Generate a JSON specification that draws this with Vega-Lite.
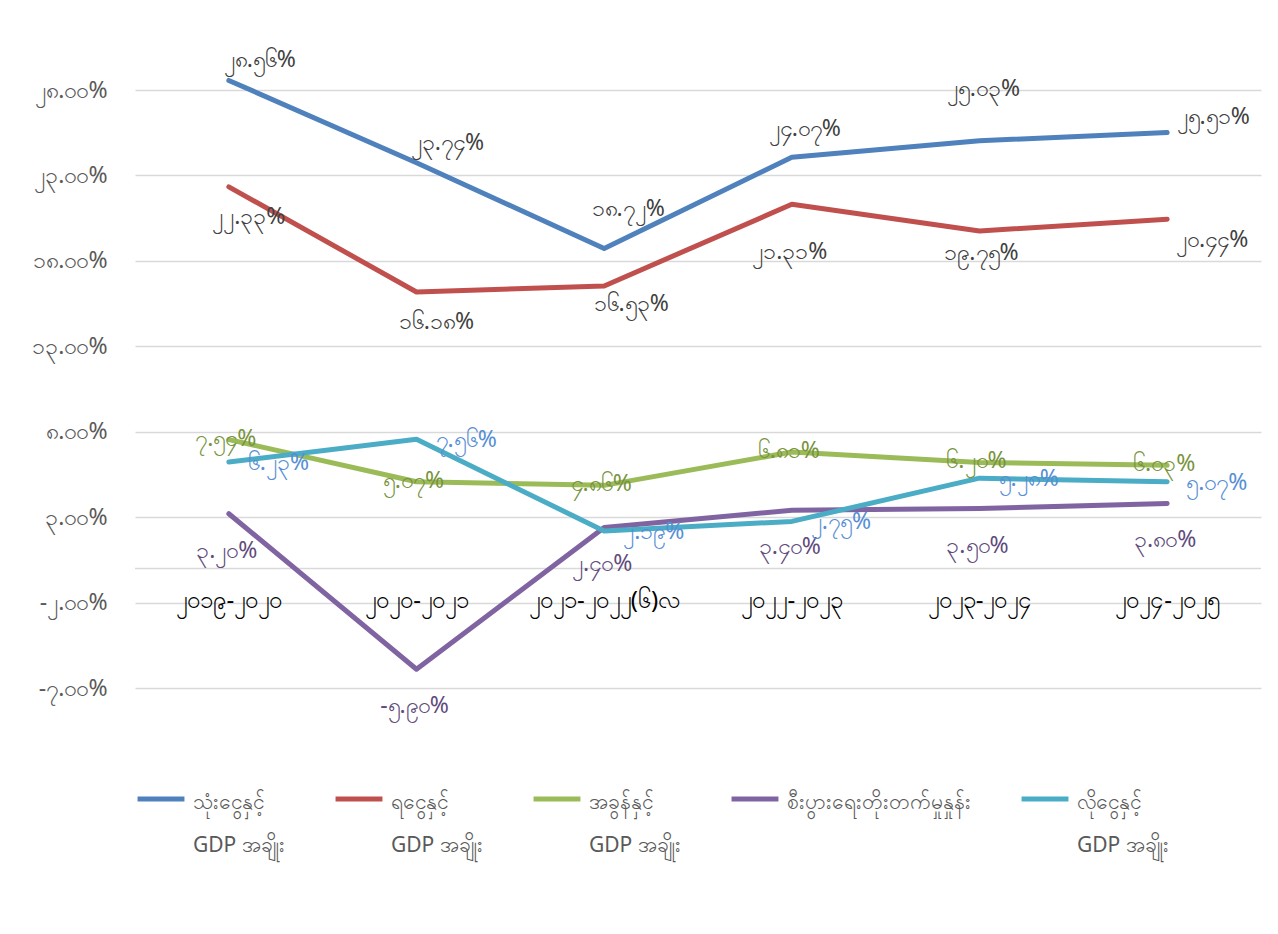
{
  "$schema": "https://vega.github.io/schema/vega-lite/v6.json",
  "autosize": "none",
  "width": 1126,
  "height": 598,
  "padding": {"left": 135, "top": 90, "right": 17, "bottom": 246},
  "background": "white",
  "config": {
    "font": "Noto Sans",
    "view": {"stroke": null}
  },
  "data": {
    "values": [
      {"cat": "၂၀၁၉-၂၀၂၀", "series": "သုံးငွေနှင့် GDP အချိုး", "v": 28.56, "t": "၂၈.၅၆%"},
      {"cat": "၂၀၂၀-၂၀၂၁", "series": "သုံးငွေနှင့် GDP အချိုး", "v": 23.74, "t": "၂၃.၇၄%"},
      {"cat": "၂၀၂၁-၂၀၂၂(၆)လ", "series": "သုံးငွေနှင့် GDP အချိုး", "v": 18.72, "t": "၁၈.၇၂%"},
      {"cat": "၂၀၂၂-၂၀၂၃", "series": "သုံးငွေနှင့် GDP အချိုး", "v": 24.07, "t": "၂၄.၀၇%"},
      {"cat": "၂၀၂၃-၂၀၂၄", "series": "သုံးငွေနှင့် GDP အချိုး", "v": 25.03, "t": "၂၅.၀၃%"},
      {"cat": "၂၀၂၄-၂၀၂၅", "series": "သုံးငွေနှင့် GDP အချိုး", "v": 25.51, "t": "၂၅.၅၁%"},
      {"cat": "၂၀၁၉-၂၀၂၀", "series": "ရငွေနှင့် GDP အချိုး", "v": 22.33, "t": "၂၂.၃၃%"},
      {"cat": "၂၀၂၀-၂၀၂၁", "series": "ရငွေနှင့် GDP အချိုး", "v": 16.18, "t": "၁၆.၁၈%"},
      {"cat": "၂၀၂၁-၂၀၂၂(၆)လ", "series": "ရငွေနှင့် GDP အချိုး", "v": 16.53, "t": "၁၆.၅၃%"},
      {"cat": "၂၀၂၂-၂၀၂၃", "series": "ရငွေနှင့် GDP အချိုး", "v": 21.31, "t": "၂၁.၃၁%"},
      {"cat": "၂၀၂၃-၂၀၂၄", "series": "ရငွေနှင့် GDP အချိုး", "v": 19.75, "t": "၁၉.၇၅%"},
      {"cat": "၂၀၂၄-၂၀၂၅", "series": "ရငွေနှင့် GDP အချိုး", "v": 20.44, "t": "၂၀.၄၄%"},
      {"cat": "၂၀၁၉-၂၀၂၀", "series": "အခွန်နှင့် GDP အချိုး", "v": 7.54, "t": "၇.၅၄%"},
      {"cat": "၂၀၂၀-၂၀၂၁", "series": "အခွန်နှင့် GDP အချိုး", "v": 5.07, "t": "၅.၀၇%"},
      {"cat": "၂၀၂၁-၂၀၂၂(၆)လ", "series": "အခွန်နှင့် GDP အချိုး", "v": 4.86, "t": "၄.၈၆%"},
      {"cat": "၂၀၂၂-၂၀၂၃", "series": "အခွန်နှင့် GDP အချိုး", "v": 6.81, "t": "၆.၈၁%"},
      {"cat": "၂၀၂၃-၂၀၂၄", "series": "အခွန်နှင့် GDP အချိုး", "v": 6.20, "t": "၆.၂၀%"},
      {"cat": "၂၀၂၄-၂၀၂၅", "series": "အခွန်နှင့် GDP အချိုး", "v": 6.03, "t": "၆.၀၃%"},
      {"cat": "၂၀၁၉-၂၀၂၀", "series": "စီးပွားရေးတိုးတက်မှုနှုန်း", "v": 3.20, "t": "၃.၂၀%"},
      {"cat": "၂၀၂၀-၂၀၂၁", "series": "စီးပွားရေးတိုးတက်မှုနှုန်း", "v": -5.90, "t": "-၅.၉၀%"},
      {"cat": "၂၀၂၁-၂၀၂၂(၆)လ", "series": "စီးပွားရေးတိုးတက်မှုနှုန်း", "v": 2.40, "t": "၂.၄၀%"},
      {"cat": "၂၀၂၂-၂၀၂၃", "series": "စီးပွားရေးတိုးတက်မှုနှုန်း", "v": 3.40, "t": "၃.၄၀%"},
      {"cat": "၂၀၂၃-၂၀၂၄", "series": "စီးပွားရေးတိုးတက်မှုနှုန်း", "v": 3.50, "t": "၃.၅၀%"},
      {"cat": "၂၀၂၄-၂၀၂၅", "series": "စီးပွားရေးတိုးတက်မှုနှုန်း", "v": 3.80, "t": "၃.၈၀%"},
      {"cat": "၂၀၁၉-၂၀၂၀", "series": "လိုငွေနှင့် GDP အချိုး", "v": 6.23, "t": "၆.၂၃%"},
      {"cat": "၂၀၂၀-၂၀၂၁", "series": "လိုငွေနှင့် GDP အချိုး", "v": 7.56, "t": "၇.၅၆%"},
      {"cat": "၂၀၂၁-၂၀၂၂(၆)လ", "series": "လိုငွေနှင့် GDP အချိုး", "v": 2.19, "t": "၂.၁၉%"},
      {"cat": "၂၀၂၂-၂၀၂၃", "series": "လိုငွေနှင့် GDP အချိုး", "v": 2.75, "t": "၂.၇၅%"},
      {"cat": "၂၀၂၃-၂၀၂၄", "series": "လိုငွေနှင့် GDP အချိုး", "v": 5.28, "t": "၅.၂၈%"},
      {"cat": "၂၀၂၄-၂၀၂၅", "series": "လိုငွေနှင့် GDP အချိုး", "v": 5.07, "t": "၅.၀၇%"}
    ]
  },
  "layer": [
    {
      "data": {"values": [{"zero": 0}]},
      "mark": {"type": "rule", "color": "#D9D9D9", "strokeWidth": 1.5},
      "encoding": {
        "y": {
          "field": "zero", "type": "quantitative",
          "scale": {"domain": [-7, 28], "nice": false, "zero": false},
          "axis": {
            "title": null, "values": [-7, -2, 3, 8, 13, 18, 23, 28],
            "domain": false, "ticks": false, "grid": true, "gridColor": "#D9D9D9", "gridWidth": 1.5,
            "labelFontSize": 23, "labelColor": "#595959", "labelPadding": 28,
            "labelExpr": "{'28':'၂၈.၀၀%','23':'၂၃.၀၀%','18':'၁၈.၀၀%','13':'၁၃.၀၀%','8':'၈.၀၀%','3':'၃.၀၀%','-2':'-၂.၀၀%','-7':'-၇.၀၀%'}['' + datum.value]"
          }
        }
      }
    },
    {
      "encoding": {
        "x": {
          "field": "cat", "type": "nominal", "sort": null,
          "scale": {"type": "point", "padding": 0.5},
          "axis": {
            "title": null, "orient": "bottom", "offset": -119.6, "domain": false, "ticks": false, "grid": false,
            "labelAngle": 0, "labelFontSize": 24, "labelColor": "#000000", "labelPadding": 20
          }
        },
        "y": {
          "field": "v", "type": "quantitative",
          "scale": {"domain": [-7, 28], "nice": false, "zero": false},
          "axis": {
            "title": null, "values": [-7, -2, 3, 8, 13, 18, 23, 28],
            "domain": false, "ticks": false, "grid": true, "gridColor": "#D9D9D9", "gridWidth": 1.5,
            "labelFontSize": 23, "labelColor": "#595959", "labelPadding": 28,
            "labelExpr": "{'28':'၂၈.၀၀%','23':'၂၃.၀၀%','18':'၁၈.၀၀%','13':'၁၃.၀၀%','8':'၈.၀၀%','3':'၃.၀၀%','-2':'-၂.၀၀%','-7':'-၇.၀၀%'}['' + datum.value]"
          }
        }
      },
      "layer": [
        {
          "mark": {"type": "line", "strokeWidth": 5, "strokeCap": "round", "strokeJoin": "round"},
          "encoding": {
            "color": {
              "field": "series", "type": "nominal",
              "scale": {
                "domain": ["သုံးငွေနှင့် GDP အချိုး", "ရငွေနှင့် GDP အချိုး", "အခွန်နှင့် GDP အချိုး", "စီးပွားရေးတိုးတက်မှုနှုန်း", "လိုငွေနှင့် GDP အချိုး"],
                "range": ["#4F81BD", "#C0504D", "#9BBB59", "#8064A2", "#4BACC6"]
              },
              "legend": {
                "title": null, "orient": "bottom", "direction": "horizontal", "offset": 85,
                "symbolType": "stroke", "symbolStrokeWidth": 5, "symbolSize": 2200,
                "labelFontSize": 21, "labelColor": "#595959", "columnPadding": 40, "labelOffset": 6,
                "labelLimit": 400, "labelBaseline": "alphabetic",
                "labelExpr": "indexof(datum.label, ' GDP') > 0 ? [substring(datum.label, 0, indexof(datum.label, ' GDP')), 'GDP အချိုး'] : [datum.label, '\u00a0']",
                "encode": {
                  "labels": {"update": {"lineHeight": {"value": 43}, "dy": {"value": 10}}}
                }
              }
            }
          }
        },
        {
          "transform": [{"filter": {"field": "series", "equal": "သုံးငွေနှင့် GDP အချိုး"}}, {"filter": {"field": "cat", "oneOf": ["၂၀၁၉-၂၀၂၀", "၂၀၂၀-၂၀၂၁"]}}],
          "mark": {"type": "text", "fontSize": 23, "color": "#404040", "dx": 31, "dy": -20},
          "encoding": {"text": {"field": "t"}}
        },
        {
          "transform": [{"filter": {"field": "series", "equal": "သုံးငွေနှင့် GDP အချိုး"}}, {"filter": {"field": "cat", "equal": "၂၀၂၁-၂၀၂၂(၆)လ"}}],
          "mark": {"type": "text", "fontSize": 23, "color": "#404040", "dx": 24, "dy": -40},
          "encoding": {"text": {"field": "t"}}
        },
        {
          "transform": [{"filter": {"field": "series", "equal": "သုံးငွေနှင့် GDP အချိုး"}}, {"filter": {"field": "cat", "equal": "၂၀၂၂-၂၀၂၃"}}],
          "mark": {"type": "text", "fontSize": 23, "color": "#404040", "dx": 13, "dy": -28},
          "encoding": {"text": {"field": "t"}}
        },
        {
          "transform": [{"filter": {"field": "series", "equal": "သုံးငွေနှင့် GDP အချိုး"}}, {"filter": {"field": "cat", "equal": "၂၀၂၃-၂၀၂၄"}}],
          "mark": {"type": "text", "fontSize": 23, "color": "#404040", "dx": 4, "dy": -52},
          "encoding": {"text": {"field": "t"}}
        },
        {
          "transform": [{"filter": {"field": "series", "equal": "သုံးငွေနှင့် GDP အချိုး"}}, {"filter": {"field": "cat", "equal": "၂၀၂၄-၂၀၂၅"}}],
          "mark": {"type": "text", "fontSize": 23, "color": "#404040", "dx": 46, "dy": -16},
          "encoding": {"text": {"field": "t"}}
        },
        {
          "transform": [{"filter": {"field": "series", "equal": "ရငွေနှင့် GDP အချိုး"}}, {"filter": {"field": "cat", "oneOf": ["၂၀၁၉-၂၀၂၀", "၂၀၂၀-၂၀၂၁"]}}],
          "mark": {"type": "text", "fontSize": 23, "color": "#404040", "dx": 20, "dy": 30},
          "encoding": {"text": {"field": "t"}}
        },
        {
          "transform": [{"filter": {"field": "series", "equal": "ရငွေနှင့် GDP အချိုး"}}, {"filter": {"field": "cat", "equal": "၂၀၂၁-၂၀၂၂(၆)လ"}}],
          "mark": {"type": "text", "fontSize": 23, "color": "#404040", "dx": 27, "dy": 18},
          "encoding": {"text": {"field": "t"}}
        },
        {
          "transform": [{"filter": {"field": "series", "equal": "ရငွေနှင့် GDP အချိုး"}}, {"filter": {"field": "cat", "equal": "၂၀၂၂-၂၀၂၃"}}],
          "mark": {"type": "text", "fontSize": 23, "color": "#404040", "dx": -2, "dy": 48},
          "encoding": {"text": {"field": "t"}}
        },
        {
          "transform": [{"filter": {"field": "series", "equal": "ရငွေနှင့် GDP အချိုး"}}, {"filter": {"field": "cat", "equal": "၂၀၂၃-၂၀၂၄"}}],
          "mark": {"type": "text", "fontSize": 23, "color": "#404040", "dx": 2, "dy": 22},
          "encoding": {"text": {"field": "t"}}
        },
        {
          "transform": [{"filter": {"field": "series", "equal": "ရငွေနှင့် GDP အချိုး"}}, {"filter": {"field": "cat", "equal": "၂၀၂၄-၂၀၂၅"}}],
          "mark": {"type": "text", "fontSize": 23, "color": "#404040", "dx": 45, "dy": 21},
          "encoding": {"text": {"field": "t"}}
        },
        {
          "transform": [{"filter": {"field": "series", "equal": "အခွန်နှင့် GDP အချိုး"}}],
          "mark": {"type": "text", "fontSize": 23, "color": "#77933C", "dx": -3, "dy": -1},
          "encoding": {"text": {"field": "t"}}
        },
        {
          "transform": [{"filter": {"field": "series", "equal": "စီးပွားရေးတိုးတက်မှုနှုန်း"}}],
          "mark": {"type": "text", "fontSize": 23, "color": "#604A7B", "dx": -2, "dy": 37},
          "encoding": {"text": {"field": "t"}}
        },
        {
          "transform": [{"filter": {"field": "series", "equal": "လိုငွေနှင့် GDP အချိုး"}}],
          "mark": {"type": "text", "fontSize": 23, "color": "#558ED5", "align": "left", "dx": 19, "dy": 1},
          "encoding": {"text": {"field": "t"}}
        }
      ]
    }
  ]
}
